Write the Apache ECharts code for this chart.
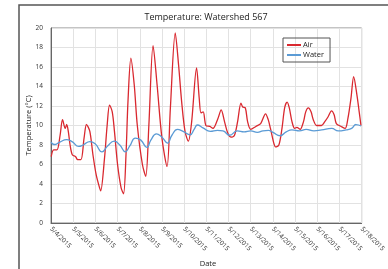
<!DOCTYPE html>
<html>
<head>
<meta charset="utf-8">
<script src="https://cdn.jsdelivr.net/npm/echarts@6/dist/echarts.min.js"></script>
<style>
  html, body { margin: 0; padding: 0; background: #fff; }
  #chart { width: 388px; height: 269px; }
</style>
</head>
<body>
<div id="chart"></div>
<script>
// x in days since 5/4/2015
const xTickLabels = ['5/4/2015', '5/5/2015', '5/6/2015', '5/7/2015', '5/8/2015', '5/9/2015', '5/10/2015',
  '5/11/2015', '5/12/2015', '5/13/2015', '5/14/2015', '5/15/2015', '5/16/2015', '5/17/2015', '5/18/2015']

const airDays = [0.01, 0.12, 0.27, 0.41, 0.52, 0.64, 0.71, 0.78, 0.86, 0.96, 1.11, 1.2, 1.35, 1.49, 1.6, 1.75,
  1.89, 2.04, 2.19, 2.24, 2.41, 2.53, 2.64, 2.76, 2.86, 3.0, 3.16, 3.27, 3.38, 3.47, 3.6, 3.75, 3.89, 4.12,
  4.27, 4.41, 4.6, 4.78, 5.0, 5.23, 5.38, 5.6, 5.75, 5.89, 6.04, 6.19, 6.34, 6.56, 6.68, 6.76, 6.86, 6.98,
  7.16, 7.3, 7.52, 7.67, 7.82, 7.97, 8.12, 8.27, 8.41, 8.56, 8.64, 8.76, 8.86, 9.0, 9.23, 9.45, 9.67, 9.79,
  9.89, 10.04, 10.12, 10.27, 10.41, 10.53, 10.64, 10.74, 10.86, 10.98, 11.08, 11.23, 11.38, 11.48, 11.6,
  11.72, 11.82, 11.97, 12.19, 12.34, 12.49, 12.64, 12.76, 12.86, 13.08, 13.26, 13.38, 13.52, 13.64, 13.79,
  13.89, 13.97]
const airTemps = [6.8, 7.5, 7.5, 9.0, 10.6, 9.7, 10.1, 9.4, 8.0, 7.0, 6.8, 6.5, 6.5, 8.7, 10.1, 9.4,
  7.0, 4.9, 3.6, 3.3, 6.6, 10.0, 12.1, 11.4, 9.4, 6.0, 3.6, 3.0, 7.0, 12.5, 16.9, 14.2, 10.0, 6.0,
  4.8, 10.0, 18.2, 14.2, 8.7, 5.8, 11.8, 19.5, 16.2, 12.4, 9.4, 8.4, 10.4, 15.9, 12.8, 11.3, 11.4, 10.0,
  9.9, 9.7, 10.7, 11.6, 10.4, 9.2, 8.8, 9.0, 10.4, 12.3, 11.9, 11.8, 10.4, 9.6, 9.9, 10.2, 11.2, 10.6,
  9.7, 8.2, 7.8, 8.0, 9.7, 11.8, 12.4, 11.8, 10.4, 9.7, 9.8, 9.6, 10.4, 11.4, 11.8,
  11.4, 10.6, 10.0, 10.0, 10.4, 10.9, 11.5, 11.1, 10.2, 9.9, 9.7, 10.7, 12.8, 15.0, 13.1,
  11.4, 10.0]

const waterDays = [0.0, 0.15, 0.4, 0.7, 0.95, 1.25, 1.45, 1.75, 2.0, 2.3, 2.55, 2.85, 3.1, 3.35, 3.55, 3.8,
  4.05, 4.32, 4.5, 4.75, 5.0, 5.25, 5.45, 5.7, 5.95, 6.27, 6.45, 6.6, 6.85, 7.18, 7.5, 7.75, 8.05, 8.4,
  8.7, 9.0, 9.3, 9.55, 9.8, 10.0, 10.33, 10.6, 10.86, 11.2, 11.5, 11.85, 12.2, 12.65, 12.95, 13.3, 13.55,
  13.75, 13.98]
const waterTemps = [8.3, 8.05, 8.3, 8.55, 8.35, 7.85, 8.0, 8.35, 8.1, 7.3, 7.9, 8.4, 8.0, 7.3, 7.9, 8.7,
  8.5, 7.75, 8.5, 9.15, 8.8, 8.2, 9.0, 9.6, 9.4, 9.05, 9.6, 10.05, 9.75, 9.4, 9.5, 9.45, 9.0, 9.45,
  9.35, 9.45, 9.3, 9.45, 9.5, 9.3, 8.95, 9.35, 9.55, 9.45, 9.6, 9.45, 9.55, 9.7, 9.45, 9.55, 9.7,
  10.1, 9.95]

const font = 'Open Sans'
const chart = echarts.init(document.getElementById('chart'))

chart.setOption({
  animation: false,
  textStyle: { fontFamily: font },
  graphic: [
    {
      type: 'rect',
      shape: { x: 19, y: 5, width: 420, height: 320 },
      style: { fill: 'none', stroke: '#555', lineWidth: 1.5 },
      silent: true
    },
    {
      type: 'text',
      x: 206,
      y: 17,
      style: {
        text: 'Temperature: Watershed 567',
        fontFamily: font,
        fontSize: 9,
        fill: '#222',
        textAlign: 'center',
        textVerticalAlign: 'middle'
      }
    },
    {
      type: 'text',
      x: 208,
      y: 264,
      style: {
        text: 'Date',
        fontFamily: font,
        fontSize: 7.5,
        fill: '#222',
        textAlign: 'center',
        textVerticalAlign: 'middle'
      }
    }
  ],
  legend: {
    orient: 'vertical',
    left: 283,
    top: 38,
    padding: [3, 6, 3, 4],
    itemGap: 2,
    itemWidth: 14,
    itemHeight: 2,
    icon: 'rect',
    borderColor: '#555',
    borderWidth: 1,
    borderRadius: 0,
    textStyle: { fontSize: 7.5, color: '#222', padding: [0, 0, 0, -3] },
    data: ['Air', 'Water']
  },
  grid: {
    left: 51,
    top: 28,
    right: 22,
    bottom: 46,
    show: true,
    borderColor: '#888',
    borderWidth: 1
  },
  xAxis: {
    type: 'value',
    min: 0,
    max: 14,
    interval: 1,
    axisLine: { lineStyle: { color: '#666' } },
    axisTick: { show: false },
    axisLabel: {
      rotate: -45,
      fontSize: 6.5,
      color: '#333',
      margin: 5,
      hideOverlap: false,
      showMinLabel: true,
      showMaxLabel: true,
      formatter: v => xTickLabels[v] || ''
    },
    splitLine: { lineStyle: { color: '#e2e2e2' } }
  },
  yAxis: {
    type: 'value',
    min: 0,
    max: 20,
    interval: 2,
    name: 'Temperature (°C)',
    nameLocation: 'middle',
    nameRotate: 90,
    nameGap: 18,
    nameMoveOverlap: false,
    nameTextStyle: { fontSize: 7.5, color: '#222' },
    axisLine: { show: true, lineStyle: { color: '#666' } },
    axisTick: { show: false },
    axisLabel: { fontSize: 6.5, color: '#333', margin: 8 },
    splitLine: { lineStyle: { color: '#e2e2e2' } }
  },
  series: [
    {
      name: 'Air',
      type: 'line',
      data: airDays.map((d, i) => [d, airTemps[i]]),
      smooth: 0.3,
      showSymbol: false,
      lineStyle: { color: '#d9282f', width: 1.3 },
      itemStyle: { color: '#d9282f' }
    },
    {
      name: 'Water',
      type: 'line',
      data: waterDays.map((d, i) => [d, waterTemps[i]]),
      smooth: 0.5,
      showSymbol: false,
      lineStyle: { color: '#5b9bd5', width: 1.3 },
      itemStyle: { color: '#5b9bd5' }
    }
  ]
})
</script>
</body>
</html>
